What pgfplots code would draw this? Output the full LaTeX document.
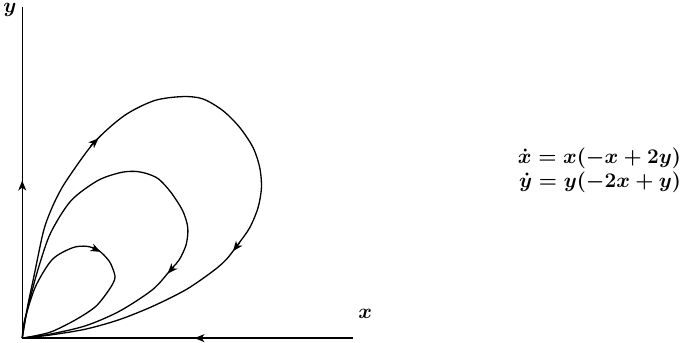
\documentclass[border=0pt]{standalone}
\usepackage{amsmath}
\usepackage{pgfplots}
\pgfplotsset{compat=1.18}
\usetikzlibrary{arrows.meta}

\tikzset{tip/.style={-{Stealth[length=10pt,width=8pt,inset=3pt]}}}

\begin{document}
\begin{tikzpicture}
\begin{axis}[
    scale only axis,
    width=681pt, height=346pt,
    xmin=-23.3, xmax=657.7,
    ymin=-4.3, ymax=341.7,
    axis lines=none,
    clip=false,
    cycle list={{black,mark=none}},
    every axis plot/.append style={black, mark=none, line width=1.3pt},
]
% axes
\addplot[black] coordinates {(0,0) (0,330)};
\addplot[black] coordinates {(329.7,0) (0,0)};
% orbits (origin at the corner of the axes)
\addplot[smooth] coordinates {
(0,0) (2.7,16.7) (6,35) (11.7,61.7) (20,101.7) (25,118.4) (33.7,138.7)
(45,158.4) (71.7,195) (101.7,221.7) (131.7,236.7) (160,240.7) (180,238.4)
(200,226.7) (216.7,210) (230,190) (236.7,170) (238.4,150) (235,130)
(226.7,110) (215,93.4) (203.4,78.4) (190,66.7) (163.4,48.4) (130,31.7)
(96.7,18.4) (63.4,9) (30,3.4) (10,1) (0,0)};
\addplot[smooth] coordinates {
(0,0) (3.7,21.7) (8.4,41.7) (16.7,71.7) (28.4,105) (48.4,136.7) (74.7,156.7)
(96.7,164.7) (111.7,166.2) (124,164) (136,158.5) (148.4,145) (160,126.7)
(165,110) (163.4,93.4) (156.7,78.4) (148.4,68.7) (130,48.4) (96.7,26.7)
(63.4,12.4) (30,4.4) (9.7,1.2) (0,0)};
\addplot[smooth] coordinates {
(0,0) (1.2,11.7) (3.4,21.7) (13.4,51.7) (30,78.4) (50,90) (64,91.5)
(76,87.5) (86.7,76.7) (91.7,65) (92.2,58.7) (86.7,48.4) (73.4,31.7)
(53.4,18.4) (30,6.7) (13.4,2.4) (0,0)};
% direction arrows
\addplot[tip] coordinates {(0,146) (0,157)};
\addplot[tip] coordinates {(182,0) (171.7,0)};
\addplot[tip] coordinates {(68,191.5) (76,199)};
\addplot[tip] coordinates {(217,95.5) (210,86.7)};
\addplot[tip] coordinates {(151,71) (145,64.4)};
\addplot[tip] coordinates {(70,90) (78,86)};

\node[font=\fontsize{20}{24}\selectfont] at (axis cs:-12.3,327) {$\boldsymbol{y}$};
\node[font=\fontsize{20}{24}\selectfont] at (axis cs:341.7,23.7) {$\boldsymbol{x}$};
\node[font=\fontsize{20}{24}\selectfont\boldmath, anchor=base east, inner sep=0pt]
  at (axis cs:656.7,173.7) {$\dot x = x(-x+2y)$};
\node[font=\fontsize{20}{24}\selectfont\boldmath, anchor=base east, inner sep=0pt]
  at (axis cs:656.7,149.7) {$\dot y = y(-2x+y)$};
\end{axis}
\end{tikzpicture}
\end{document}
